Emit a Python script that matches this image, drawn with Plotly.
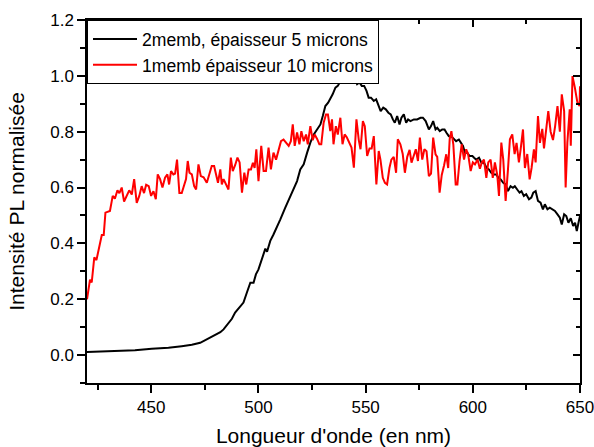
import plotly.graph_objects as go

# Spectres PL normalises
wl_2memb = [420, 427, 434.6, 442.4, 450.2, 458, 464.2, 468.9, 472.8, 475.9, 479, 482.2, 483.7,
            485.7, 487.6, 489.1, 491, 493, 494.6, 496.2, 497.7, 498.8, 500, 501.6, 503.2, 504,
            505.5, 507, 508.6, 510.2, 512.5, 514.9, 516.4, 518, 519.5, 521.1, 522.7, 524.2,
            525.8, 527.3, 528.9, 530, 531.2, 532.5, 533.5, 534.6, 535.9, 537, 537.9, 539.3,
            540.5, 541.7, 542.9, 544, 545, 546, 547.1, 548.2, 549.3, 550.4, 551.4, 552.5, 553.8,
            554.9, 556.1, 557, 558.2, 559.4, 560.6, 561.7, 562.7, 563.6, 564.7, 565.8, 566.7,
            567.8, 568.9, 569.8, 570.9, 572.5, 574, 575.6, 576.7, 578, 579.5, 580.5, 581.5,
            582.6, 583.4, 584.6, 585.7, 586.8, 587.7, 588.8, 589.9, 591.1, 592.2, 593.5, 594.3,
            595.4, 596.3, 597.4, 598.5, 599.8, 600.6, 601.6, 602.9, 604, 605.2, 606.4, 607.5,
            608.6, 609.9, 611, 611.9, 613, 614.2, 615.3, 616.4, 617.6, 618.7, 619.6, 620.7,
            621.8, 622.7, 623.8, 624.9, 626.2, 627.3, 628.2, 629.3, 630.4, 631.6, 632.7, 633.6,
            634.8, 635.9, 637.2, 638.3, 639.5, 640.6, 641.5, 642.6, 643.6, 644.6, 645.7, 646.8,
            647.7, 648.5, 649.3, 650]
int_2memb = [0.011, 0.013, 0.014, 0.017, 0.023, 0.026, 0.032, 0.037, 0.044, 0.056, 0.068, 0.082,
             0.092, 0.11, 0.13, 0.152, 0.17, 0.188, 0.224, 0.259, 0.259, 0.289, 0.307, 0.343,
             0.381, 0.37, 0.409, 0.432, 0.462, 0.486, 0.528, 0.57, 0.593, 0.623, 0.665, 0.683,
             0.725, 0.761, 0.79, 0.808, 0.826, 0.856, 0.892, 0.904, 0.916, 0.934, 0.958, 0.964,
             0.976, 0.982, 0.988, 1.0, 0.994, 0.976, 0.988, 0.97, 0.976, 0.964, 0.964, 0.946,
             0.922, 0.922, 0.91, 0.916, 0.892, 0.874, 0.886, 0.88, 0.868, 0.862, 0.844, 0.832,
             0.856, 0.826, 0.85, 0.862, 0.832, 0.844, 0.838, 0.844, 0.844, 0.85, 0.85, 0.838,
             0.808, 0.82, 0.838, 0.808, 0.814, 0.802, 0.808, 0.808, 0.796, 0.784, 0.784, 0.773,
             0.766, 0.772, 0.761, 0.749, 0.725, 0.725, 0.713, 0.713, 0.707, 0.70, 0.707, 0.689,
             0.689, 0.671, 0.665, 0.653, 0.647, 0.647, 0.635, 0.629, 0.617, 0.611, 0.587, 0.605,
             0.599, 0.605, 0.593, 0.582, 0.587, 0.57, 0.576, 0.558, 0.564, 0.582, 0.587, 0.552,
             0.546, 0.522, 0.54, 0.522, 0.528, 0.522, 0.516, 0.504, 0.492, 0.468, 0.504, 0.498,
             0.474, 0.49, 0.462, 0.474, 0.444, 0.474, 0.498]

wl_1memb = [420, 421.4, 422.2, 423.4, 424.4, 425.6, 426.9, 427.8, 428.6, 430.7, 432, 433, 434.2,
            435.1, 436.2, 437.3, 438.5, 439.7, 440.9, 442, 443.2, 444.4, 445.5, 446.6, 447.6,
            448.8, 449.9, 451, 452.1, 453, 454.1, 455.2, 456.4, 457.5, 458.3, 459.2, 460.3,
            461.1, 462, 463.1, 464.2, 465.3, 466.2, 467, 467.8, 468.9, 470, 470.9, 472, 473.1,
            474.4, 475.9, 477.1, 478.2, 479.3, 480.2, 481.1, 482.2, 482.9, 483.7, 484.9, 486,
            487.1, 488, 489.1, 490.2, 491.2, 492.3, 493.4, 494.3, 495.4, 496.5, 497.4, 498.2,
            499, 500, 501.3, 502.4, 503.5, 504.7, 505.8, 507, 508.2, 509.4, 510.5, 511.7, 513,
            514.1, 515.1, 516, 516.9, 518, 519.1, 520, 521.1, 522.2, 523, 524.2, 525.3, 526.2,
            527.3, 528.4, 529.3, 530.4, 531.5, 532.4, 533.5, 534.3, 535, 536.1, 537, 538.2,
            539.2, 540.2, 541.2, 542.3, 543.4, 544.5, 545.7, 546.8, 547.6, 548.7, 549.6, 550.7,
            551.8, 552.8, 553.8, 555, 556.1, 556.9, 558, 559, 560, 561.1, 562, 563.1, 564.2,
            565, 566.2, 567.3, 568.3, 569.4, 570.5, 571.4, 572.5, 573.4, 574.4, 575.3, 576.4,
            577.4, 578.4, 579.5, 580.5, 581.5, 582.6, 583.4, 584.5, 585.5, 586.6, 587.6, 588.5,
            589.2, 590, 590.9, 592, 592.8, 593.8, 594.8, 595.9, 596.9, 597.8, 599, 600, 601,
            602.2, 603.3, 604.2, 605.2, 606.3, 607.2, 608.3, 609.3, 610.3, 611.4, 612.2, 613.3,
            614.2, 615.3, 616.4, 617.3, 618.4, 619.5, 620.4, 621.5, 622.3, 623.4, 624.3, 625.4,
            626.5, 627.4, 628.5, 629.3, 630.4, 631.3, 632.4, 633.2, 634.4, 635.2, 636.3, 637.4,
            638.4, 639.5, 640.6, 641.5, 642.6, 643.3, 644.1, 645.2, 645.7, 646.5, 647.6, 648.8,
            649.8, 650]
int_1memb = [0.2, 0.27, 0.26, 0.35, 0.34, 0.38, 0.43, 0.43, 0.51, 0.516, 0.57, 0.56, 0.59, 0.58,
             0.60, 0.55, 0.57, 0.59, 0.575, 0.63, 0.545, 0.57, 0.605, 0.58, 0.61, 0.605, 0.57,
             0.587, 0.558, 0.647, 0.63, 0.60, 0.635, 0.647, 0.611, 0.659, 0.647, 0.65, 0.70,
             0.58, 0.58, 0.61, 0.63, 0.695, 0.653, 0.647, 0.605, 0.593, 0.683, 0.641, 0.637,
             0.617, 0.647, 0.677, 0.677, 0.647, 0.617, 0.665, 0.611, 0.63, 0.61, 0.593, 0.707,
             0.659, 0.68, 0.707, 0.69, 0.582, 0.653, 0.611, 0.665, 0.665, 0.689, 0.67, 0.737,
             0.623, 0.749, 0.659, 0.659, 0.743, 0.665, 0.725, 0.70, 0.737, 0.766, 0.772, 0.761,
             0.749, 0.766, 0.826, 0.749, 0.797, 0.755, 0.802, 0.766, 0.79, 0.755, 0.82, 0.77,
             0.79, 0.775, 0.755, 0.755, 0.832, 0.862, 0.862, 0.802, 0.844, 0.755, 0.82, 0.79,
             0.85, 0.755, 0.79, 0.78, 0.76, 0.743, 0.671, 0.844, 0.77, 0.737, 0.838, 0.82, 0.713,
             0.74, 0.74, 0.784, 0.611, 0.731, 0.70, 0.635, 0.617, 0.611, 0.67, 0.70, 0.71, 0.653,
             0.773, 0.755, 0.72, 0.653, 0.71, 0.735, 0.689, 0.72, 0.737, 0.695, 0.779, 0.70,
             0.737, 0.73, 0.641, 0.65, 0.779, 0.719, 0.71, 0.582, 0.645, 0.68, 0.719, 0.67,
             0.773, 0.802, 0.755, 0.611, 0.611, 0.695, 0.755, 0.70, 0.737, 0.72, 0.659, 0.69,
             0.683, 0.70, 0.667, 0.69, 0.70, 0.635, 0.69, 0.70, 0.635, 0.69, 0.645, 0.57, 0.761,
             0.70, 0.552, 0.665, 0.773, 0.79, 0.72, 0.76, 0.69, 0.737, 0.808, 0.67, 0.72, 0.629,
             0.67, 0.737, 0.69, 0.856, 0.76, 0.81, 0.74, 0.82, 0.874, 0.80, 0.77, 0.82, 0.892,
             0.80, 0.934, 0.874, 0.60, 0.76, 0.88, 0.75, 0.999, 0.958, 0.904, 0.892, 0.963]

names = ["2memb, épaisseur 5 microns", "1memb épaisseur 10 microns"]
colors = ["black", "#ff0000"]

x_range = [420, 650]
y_range = [-0.1, 1.2]
x_ticks = [450, 500, 550, 600, 650]
y_ticks = [0, 0.2, 0.4, 0.6, 0.8, 1.0, 1.2]

FONT = "Liberation Sans, Arial, sans-serif"

fig = go.Figure()
fig.add_trace(go.Scatter(x=wl_2memb, y=int_2memb, mode="lines", name=names[0],
                         line=dict(color=colors[0], width=2)))
fig.add_trace(go.Scatter(x=wl_1memb, y=int_1memb, mode="lines", name=names[1],
                         line=dict(color=colors[1], width=2)))
# trace vide pour afficher les axes haut / droite
fig.add_trace(go.Scatter(x=[], y=[], xaxis="x2", yaxis="y2", showlegend=False,
                         hoverinfo="skip"))

fig.update_layout(
    width=594, height=447,
    margin=dict(l=87, r=14, t=20, b=64, autoexpand=False),
    plot_bgcolor="white", paper_bgcolor="white",
    font=dict(family=FONT, size=17, color="black"),
    showlegend=True,
    legend=dict(x=0, y=1, xanchor="left", yanchor="top",
                bgcolor="white", bordercolor="black", borderwidth=1,
                font=dict(size=17.6), tracegroupgap=0, itemwidth=44),
    xaxis=dict(range=x_range, tickvals=x_ticks, automargin=False, ticklabeloverflow="allow",
               ticks="outside", ticklen=8, tickwidth=1.5, tickcolor="black",
               minor=dict(ticks="outside", ticklen=5, tickwidth=1.5, dtick=25, tick0=425,
                          tickcolor="black"),
               showline=True, linecolor="black", linewidth=1.5, mirror=True,
               showgrid=False, zeroline=False,
               title=dict(text="Longueur d'onde (en nm)", font=dict(size=21), standoff=15)),
    yaxis=dict(range=y_range, tickvals=y_ticks, tickformat=".1f", automargin=False,
               ticklabeloverflow="allow",
               ticks="outside", ticklen=8, tickwidth=1.5, tickcolor="black",
               minor=dict(ticks="outside", ticklen=5, tickwidth=1.5, dtick=0.1, tick0=0.1,
                          tickcolor="black"),
               showline=True, linecolor="black", linewidth=1.5, mirror=True,
               showgrid=False, zeroline=False,
               title=dict(text="Intensité PL normalisée", font=dict(size=21), standoff=20)),
    # axes miroir (haut / droite) avec graduations vers l'interieur
    xaxis2=dict(overlaying="x", side="top", range=x_range, tickvals=x_ticks, automargin=False,
                ticks="inside", ticklen=7, tickwidth=1.5, tickcolor="black",
                minor=dict(ticks="inside", ticklen=4, tickwidth=1.5, dtick=25, tick0=425,
                           tickcolor="black"),
                showticklabels=False, showgrid=False, zeroline=False, showline=False),
    yaxis2=dict(overlaying="y", side="right", range=y_range, tickvals=y_ticks, automargin=False,
                ticks="inside", ticklen=7, tickwidth=1.5, tickcolor="black",
                minor=dict(ticks="inside", ticklen=4, tickwidth=1.5, dtick=0.1, tick0=0.1,
                           tickcolor="black"),
                showticklabels=False, showgrid=False, zeroline=False, showline=False),
)

# la page par defaut a une marge de 8 px autour du graphique
fig.write_html("out.html", config={"displayModeBar": False},
               post_script="document.body.style.margin='0';")
